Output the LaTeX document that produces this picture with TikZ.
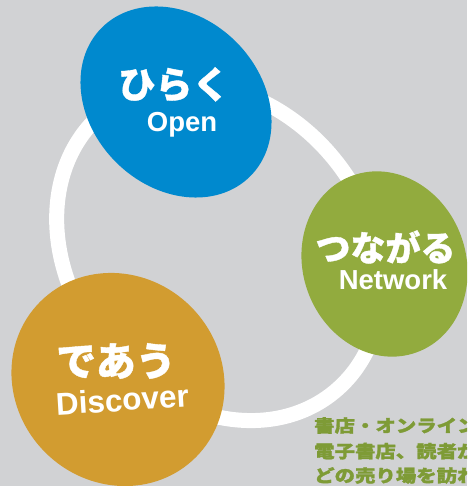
\documentclass[tikz,border=0pt]{standalone}
\usepackage{fontspec}
\setmainfont{Liberation Sans}
\newfontfamily\jp{Noto Sans CJK JP}[BoldFeatures={FakeBold=1}]
\newfontfamily\jpbody{Noto Sans CJK JP}[FakeStretch=1.18, BoldFeatures={FakeBold=1.5}]
\definecolor{bgC}{HTML}{D1D2D4}
\definecolor{blueC}{HTML}{0089CE}
\definecolor{greenC}{HTML}{92AB3E}
\definecolor{orangeC}{HTML}{D29C30}
\definecolor{textG}{HTML}{7E9B36}
\begin{document}
\begin{tikzpicture}[x=1pt,y=1pt,
  jplabel/.style={text=white, inner sep=0pt},
  enlabel/.style={text=white, inner sep=0pt, anchor=base, font=\fontsize{27.5}{30}\selectfont\bfseries},
  bodytext/.style={text=textG, inner sep=0pt, anchor=west, font=\fontsize{17.3}{20}\selectfont\jpbody\bfseries}]
\useasboundingbox (0,0) rectangle (467,486);
\clip (0,0) rectangle (467,486);
\fill[bgC] (0,0) rectangle (467,486);
% ring
\draw[white, line width=15pt, rotate around={-50.4:(219,234)}] (219,234) ellipse [x radius=181.3, y radius=148];
% blobs
\fill[blueC, rotate around={-45:(176,384)}] (176,384) ellipse [x radius=105, y radius=85];
\fill[greenC, rotate around={-70:(384.5,222)}] (384.5,222) ellipse [x radius=94, y radius=81.5];
\fill[orangeC, rotate around={-45:(118,106.5)}] (118,106.5) ellipse [x radius=110, y radius=103];
% labels
\node[jplabel, font=\fontsize{37}{40}\selectfont\jp\bfseries] (hiraku) at (174,401.5) {ひらく};
\node[enlabel] (open) at (182,354) {Open};
\node[jplabel, font=\fontsize{35}{38}\selectfont\jp\bfseries] (tsunagaru) at (385.5,239) {つながる};
\node[enlabel] (network) at (393,196) {Network};
\node[jplabel, font=\fontsize{40}{44}\selectfont\jp\bfseries] (deau) at (116,125) {であう};
\node[enlabel, font=\fontsize{31.5}{34}\selectfont\bfseries, rotate=3.5] (discover) at (123,75) {Discover};
% body text
\node[bodytext] (line1) at (314,60.5) {書店・オンライン};
\node[bodytext] (line2) at (314,35) {電子書店、読者が};
\node[bodytext] (line3) at (314,10.5) {どの売り場を訪れ};
\end{tikzpicture}
\end{document}
